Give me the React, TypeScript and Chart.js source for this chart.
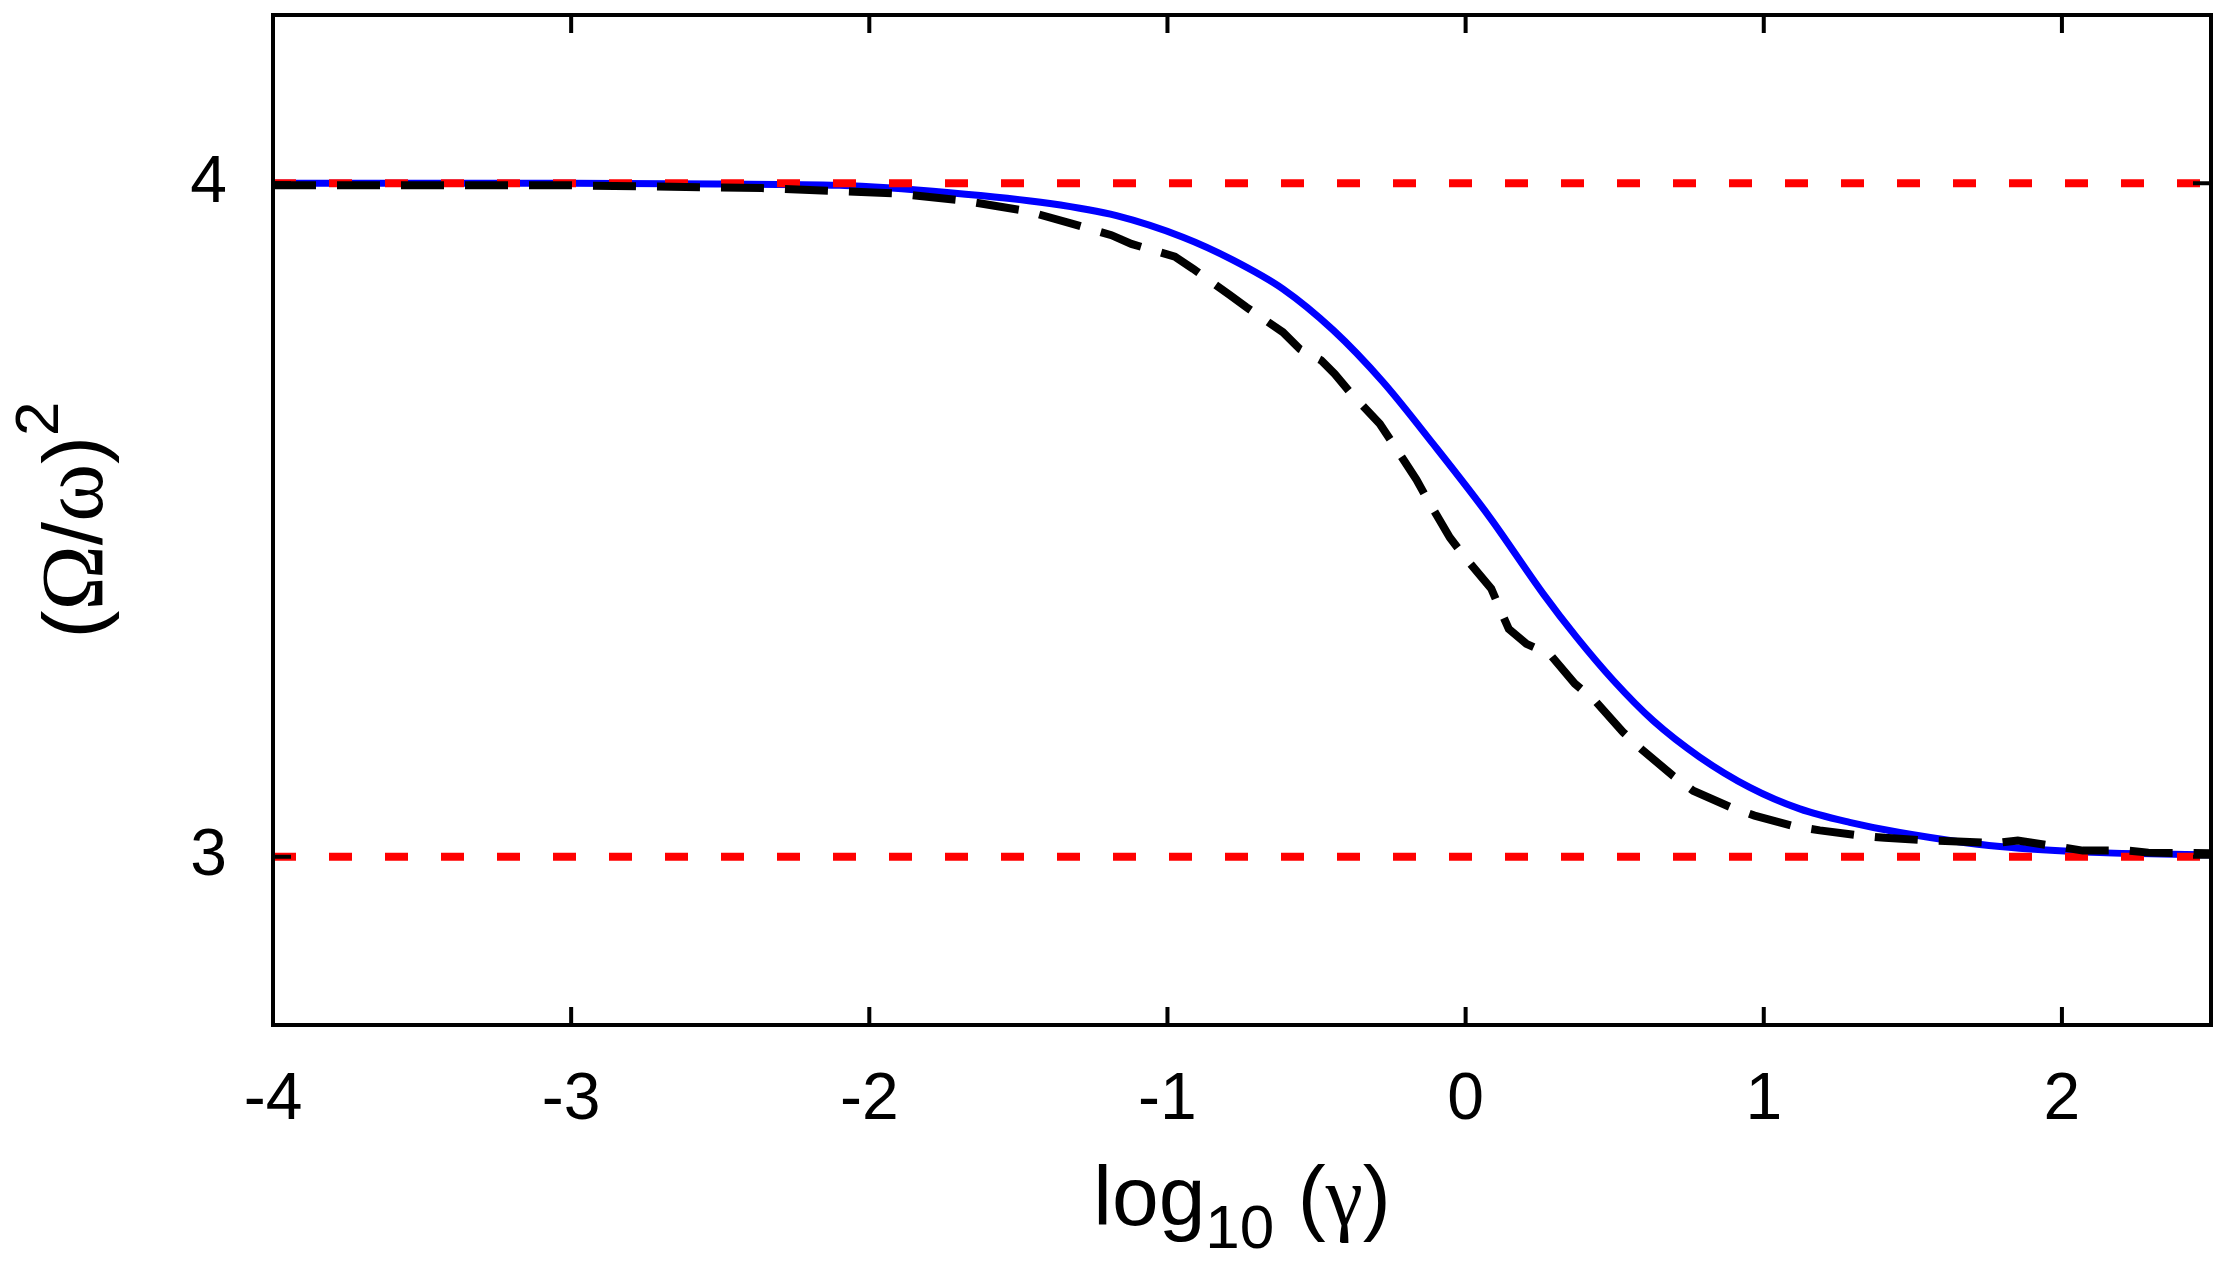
import React, { useEffect, useRef } from 'react';
import Chart from 'chart.js/auto';

// solid blue curve
const blueX = [-4, -3.5, -3, -2.5, -2.1, -1.73, -1.394, -1.171, -0.948, -0.78, -0.612, -0.444, -0.277, -0.109, 0.081, 0.261, 0.372, 0.495, 0.629, 0.785, 0.953, 1.121, 1.288, 1.456, 1.792, 2.127, 2.5];
const blueY = [4.0, 4.0, 4.0, 3.999, 3.997, 3.986, 3.97, 3.952, 3.92, 3.886, 3.843, 3.782, 3.705, 3.613, 3.504, 3.39, 3.326, 3.262, 3.202, 3.148, 3.103, 3.071, 3.051, 3.036, 3.015, 3.006, 3.003];

// black dashed curve
const blackX = [-4, -3, -2.361, -1.914, -1.696, -1.473, -1.327, -1.188, -1.121, -0.975, -0.914, -0.791, -0.735, -0.613, -0.556, -0.484, -0.439, -0.388, -0.288, -0.243, -0.165, -0.126, -0.053, -0.003, 0.086, 0.12, 0.145, 0.204, 0.282, 0.366, 0.433, 0.528, 0.589, 0.696, 0.763, 0.891, 0.969, 1.103, 1.188, 1.33, 1.406, 1.55, 1.63, 1.775, 1.852, 2.0, 2.07, 2.22, 2.29, 2.5];
const blackY = [3.997, 3.997, 3.993, 3.985, 3.975, 3.959, 3.941, 3.923, 3.91, 3.891, 3.873, 3.834, 3.816, 3.779, 3.754, 3.737, 3.717, 3.69, 3.643, 3.613, 3.56, 3.529, 3.474, 3.445, 3.398, 3.363, 3.338, 3.316, 3.301, 3.257, 3.232, 3.185, 3.16, 3.12, 3.098, 3.073, 3.061, 3.045, 3.039, 3.031, 3.028, 3.024, 3.023, 3.02, 3.024, 3.014, 3.009, 3.009, 3.006, 3.005];

// red dashed limits
const limitValues = [4, 3];
const xRange = [-4, 2.5];
const yRange = [2.75, 4.25];
const xTicks = [-4, -3, -2, -1, 0, 1, 2];
const yTicks = [3, 4];

const SANS = '"Liberation Sans", Arial, sans-serif';
const SERIF = '"Liberation Serif", "Times New Roman", serif';

const zip = (xs: number[], ys: number[]) => xs.map((x, i) => ({ x, y: ys[i] }));

type Piece = { t: string; font: string; rise: number };

function drawPieces(ctx: CanvasRenderingContext2D, pieces: Piece[], startX: number) {
  let x = startX;
  pieces.forEach(p => {
    ctx.font = p.font;
    ctx.fillText(p.t, x, -p.rise);
    x += ctx.measureText(p.t).width;
  });
}

function piecesWidth(ctx: CanvasRenderingContext2D, pieces: Piece[]) {
  let w = 0;
  pieces.forEach(p => {
    ctx.font = p.font;
    w += ctx.measureText(p.t).width;
  });
  return w;
}

const framePlugin = {
  id: 'frame',
  afterDraw(chart: any) {
    const { ctx, chartArea: a, scales } = chart;
    const tick = 18;
    ctx.save();
    ctx.strokeStyle = '#000';
    ctx.lineWidth = 4;
    ctx.lineCap = 'butt';
    ctx.strokeRect(a.left, a.top, a.right - a.left, a.bottom - a.top);
    ctx.beginPath();
    xTicks.forEach(v => {
      const px = scales.x.getPixelForValue(v);
      ctx.moveTo(px, a.bottom);
      ctx.lineTo(px, a.bottom - tick);
      ctx.moveTo(px, a.top);
      ctx.lineTo(px, a.top + tick);
    });
    yTicks.forEach(v => {
      const py = scales.y.getPixelForValue(v);
      ctx.moveTo(a.left, py);
      ctx.lineTo(a.left + tick, py);
      ctx.moveTo(a.right, py);
      ctx.lineTo(a.right - tick, py);
    });
    ctx.stroke();

    ctx.fillStyle = '#000';
    ctx.textBaseline = 'alphabetic';
    ctx.textAlign = 'left';

    // x axis title: log10 (γ)
    const xt: Piece[] = [
      { t: 'log', font: `84px ${SANS}`, rise: 0 },
      { t: '10', font: `62px ${SANS}`, rise: -23 },
      { t: ' (', font: `84px ${SANS}`, rise: 0 },
      { t: 'γ', font: `84px ${SERIF}`, rise: 0 },
      { t: ')', font: `84px ${SANS}`, rise: 0 },
    ];
    const cx = (a.left + a.right) / 2;
    const xw = piecesWidth(ctx, xt);
    ctx.save();
    ctx.translate(cx - xw / 2, a.bottom + 200);
    drawPieces(ctx, xt, 0);
    ctx.restore();

    // y axis title: (Ω/ω)^2
    const yt: Piece[] = [
      { t: '(', font: `84px ${SANS}`, rise: 0 },
      { t: 'Ω', font: `88px ${SERIF}`, rise: 0 },
      { t: '/', font: `84px ${SANS}`, rise: 0 },
      { t: 'ω', font: `88px ${SERIF}`, rise: 0 },
      { t: ')', font: `84px ${SANS}`, rise: 0 },
      { t: '2', font: `62px ${SANS}`, rise: 44 },
    ];
    const cy = (a.top + a.bottom) / 2;
    const yw = piecesWidth(ctx, yt);
    ctx.save();
    ctx.translate(102, cy + yw / 2);
    ctx.rotate(-Math.PI / 2);
    drawPieces(ctx, yt, 0);
    ctx.restore();

    ctx.restore();
  },
};

const App: React.FC = () => {
  const canvasRef = useRef<HTMLCanvasElement>(null);
  const chartRef = useRef<Chart | null>(null);

  useEffect(() => {
    document.body.style.margin = '0';
    if (!canvasRef.current) return;
    if (chartRef.current) chartRef.current.destroy();

    const limitSets = limitValues.map(v => ({
      data: zip(xRange, [v, v]),
      borderColor: '#ff0000',
      borderWidth: 8,
      borderDash: [23, 33],
      pointRadius: 0,
      order: 1,
    }));

    chartRef.current = new Chart(canvasRef.current, {
      type: 'line',
      data: {
        datasets: [
          {
            data: zip(blackX, blackY),
            borderColor: '#000000',
            borderWidth: 8,
            borderDash: [43, 21],
            pointRadius: 0,
            tension: 0,
            order: 0,
          },
          ...limitSets,
          {
            data: zip(blueX, blueY),
            borderColor: '#0000ff',
            borderWidth: 7,
            pointRadius: 0,
            cubicInterpolationMode: 'monotone',
            order: 2,
          },
        ] as any,
      },
      options: {
        animation: false,
        responsive: true,
        maintainAspectRatio: false,
        layout: { padding: { top: 15, right: 12, left: 0, bottom: 0 } },
        plugins: { legend: { display: false }, tooltip: { enabled: false } },
        scales: {
          x: {
            type: 'linear',
            min: xRange[0],
            max: xRange[1],
            grid: { display: false, drawTicks: false },
            border: { display: false },
            ticks: { font: { family: SANS, size: 66 }, color: '#000', padding: 36, maxRotation: 0 },
            afterBuildTicks: (s: any) => { s.ticks = xTicks.map(v => ({ value: v })); },
            afterFit: (s: any) => { s.height = 238; s.paddingLeft = 0; s.paddingRight = 0; },
          },
          y: {
            type: 'linear',
            min: yRange[0],
            max: yRange[1],
            grid: { display: false, drawTicks: false },
            border: { display: false },
            ticks: { font: { family: SANS, size: 66 }, color: '#000', padding: 46 },
            afterBuildTicks: (s: any) => { s.ticks = yTicks.map(v => ({ value: v })); },
            afterFit: (s: any) => { s.width = 273; s.paddingTop = 0; s.paddingBottom = 0; },
          },
        },
      },
      plugins: [framePlugin],
    });

    return () => {
      if (chartRef.current) {
        chartRef.current.destroy();
        chartRef.current = null;
      }
    };
  }, []);

  return (
    <div style={{ width: 2223, height: 1263, position: 'relative', background: '#fff' }}>
      <canvas ref={canvasRef}></canvas>
    </div>
  );
};

export default App;
